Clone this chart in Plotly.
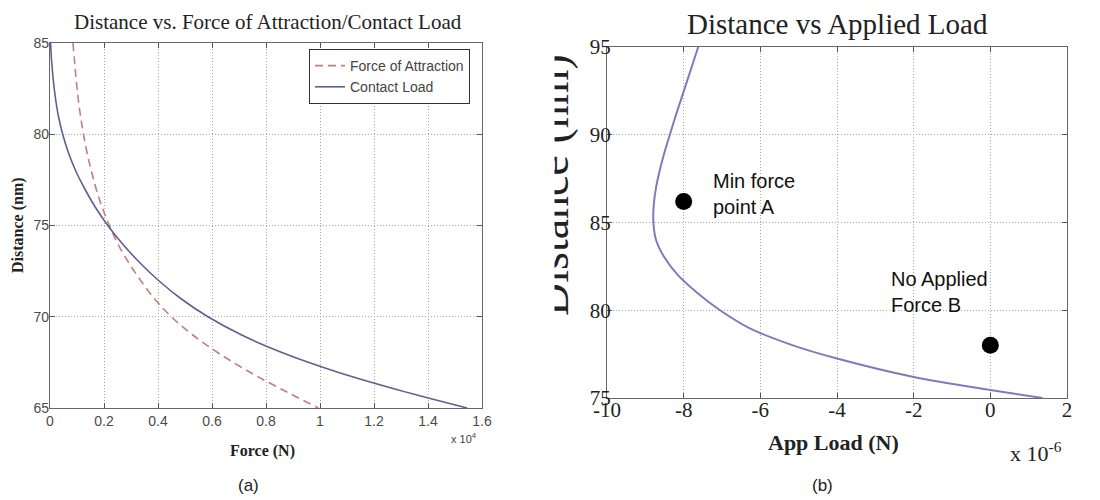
import plotly.graph_objects as go

# ---- Panel (a) data: Distance (nm) vs Force (x1e4 N) ----
dist_attraction = [85, 84, 83, 82, 81, 80, 79, 78, 77, 76, 75, 74, 73, 72, 71, 70, 69, 68, 67, 66, 65]
force_attraction = [0.085, 0.091, 0.097, 0.104, 0.113, 0.124, 0.137, 0.153, 0.171, 0.193, 0.220,
                    0.251, 0.290, 0.335, 0.386, 0.449, 0.529, 0.625, 0.736, 0.861, 0.994]

dist_contact = [85, 84, 83, 82, 81, 80, 79, 78, 77, 76, 75, 74, 73, 72, 71, 70, 69, 68, 67, 66, 65]
force_contact = [0.002, 0.006, 0.012, 0.020, 0.031, 0.047, 0.068, 0.095, 0.129, 0.168, 0.214,
                 0.268, 0.330, 0.401, 0.484, 0.585, 0.710, 0.866, 1.058, 1.287, 1.545]

a_xticks = [0, 0.2, 0.4, 0.6, 0.8, 1.0, 1.2, 1.4, 1.6]
a_xticklabels = ["0", "0.2", "0.4", "0.6", "0.8", "1", "1.2", "1.4", "1.6"]
a_yticks = [65, 70, 75, 80, 85]

# ---- Panel (b) data: Distance (nm) vs App Load (x1e-6 N) ----
dist_applied = [95, 94, 93, 92, 91, 90, 89, 88, 87, 86, 85, 84, 83, 82, 81, 80, 79, 78,
                77.25, 76.2, 75.46, 75]
load_applied = [-7.62, -7.77, -7.92, -8.07, -8.22, -8.36, -8.5, -8.62, -8.72, -8.78, -8.79, -8.72,
                -8.5, -8.15, -7.65, -7.05, -6.3, -5.15, -4.0, -2.0, 0.0, 1.36]

point_labels = ["A", "B"]
point_load = [-8.0, 0.0]
point_dist = [86.2, 78.0]

b_xticks = [-10, -8, -6, -4, -2, 0, 2]
b_xticklabels = ["-10", "-8", "-6", "-4", "-2", "0", "2"]
b_yticks = [75, 80, 85, 90, 95]

# The page body has an 8px margin: size the figure to the visible area and
# express positions in window pixels.
OFF = 8
W, H = 1100 - OFF, 500 - OFF
def px(x):
    return (x - OFF) / W
def py(y):
    return 1 - (y - OFF) / H

SERIF = "Liberation Serif, Times New Roman, serif"
SANS = "Liberation Sans, Arial, sans-serif"
NARROW = "Liberation Sans Narrow, Arial Narrow, Liberation Sans, sans-serif"

fig = go.Figure()
fig.add_trace(go.Scatter(x=force_attraction, y=dist_attraction, mode="lines",
                         name="Force of Attraction",
                         line=dict(color="#c27f7f", width=1.6, dash="8px,5px", shape="spline", smoothing=1),
                         xaxis="x", yaxis="y"))
fig.add_trace(go.Scatter(x=force_contact, y=dist_contact, mode="lines",
                         name="Contact Load",
                         line=dict(color="#5f5f92", width=1.6, shape="spline", smoothing=1),
                         xaxis="x", yaxis="y"))
fig.add_trace(go.Scatter(x=load_applied, y=dist_applied, mode="lines", showlegend=False,
                         line=dict(color="#7c7cbc", width=2, shape="spline", smoothing=0.8),
                         xaxis="x2", yaxis="y2"))
fig.add_trace(go.Scatter(x=point_load, y=point_dist, mode="markers", showlegend=False,
                         marker=dict(color="black", size=17), text=point_labels,
                         xaxis="x2", yaxis="y2"))

axis_common = dict(showgrid=True, gridcolor="#a8a8a8", griddash="1px,2px", gridwidth=1,
                   ticks="inside", ticklen=5, tickcolor="#555", mirror="allticks",
                   showline=True, linecolor="#666", linewidth=1.2, zeroline=False,
                   automargin=False)

fig.update_layout(
    template="none",
    width=W, height=H, margin=dict(l=0, r=0, t=0, b=0, pad=0, autoexpand=False),
    paper_bgcolor="white", plot_bgcolor="white",
    xaxis=dict(domain=[px(50), px(482)], range=[0, 1.6], tickvals=a_xticks, ticktext=a_xticklabels,
               anchor="y", tickfont=dict(family=NARROW, size=14, color="#4a4a4a"), **axis_common),
    yaxis=dict(domain=[py(408), py(43)], range=[65, 85], tickvals=a_yticks, ticklabelstandoff=-3,
               anchor="x", tickfont=dict(family=NARROW, size=14, color="#4a4a4a"), **axis_common),
    xaxis2=dict(domain=[px(607), px(1067)], range=[-10, 2], tickvals=b_xticks, ticktext=b_xticklabels,
                ticklabelstandoff=-7,
                anchor="y2", tickfont=dict(family=SERIF, size=21, color="#222"), **axis_common),
    yaxis2=dict(domain=[py(398), py(47)], range=[75, 95], tickvals=b_yticks, ticklabelstandoff=-9,
                anchor="x2", tickfont=dict(family=SERIF, size=21, color="#222"), **axis_common),
    legend=dict(x=px(309), y=py(49), xanchor="left", yanchor="top",
                bordercolor="#333", borderwidth=1, bgcolor="white",
                font=dict(family=SANS, size=14, color="#444"), tracegroupgap=0),
    showlegend=True,
)

ann = []
def add(text, x, y, size, family=SERIF, color="#222", angle=0, xanchor="center", yanchor="middle",
        xref="paper", yref="paper", **kw):
    ann.append(dict(text=text, x=x, y=y, xref=xref, yref=yref, showarrow=False,
                    font=dict(family=family, size=size, color=color), textangle=angle,
                    xanchor=xanchor, yanchor=yanchor, **kw))

# Panel (a) texts
add("Distance vs. Force of Attraction/Contact Load", px(268), py(22), 21)
add("<b>Force (N)</b>", px(262), py(451), 16)
add("<b>Distance (nm)</b>", px(18), py(225), 16, angle=-90)
add("x 10<sup>4</sup>", px(464), py(438), 11, family=SANS, color="#444")
add("(a)", px(248), py(485), 17, family=SANS)

# Panel (b) texts
add("Distance vs Applied Load", px(837), py(24), 29)
add("<b>App Load (N)</b>", px(833), py(442), 22)
add("x 10<sup>-6</sup>", px(1036), py(452), 22)
add("(b)", px(822), py(485), 17, family=SANS)
add("Distance (nm)", px(552), py(185), 46, angle=-90)
# white mask reproducing the clipped y-axis title of panel (b)
ann.append(dict(text=" ", x=px(536), y=py(190), xref="paper", yref="paper", showarrow=False,
                width=34, height=330, bgcolor="white", xanchor="center", yanchor="middle"))

# point labels
add("Min force", -7.30, 87.35, 20, family=SANS, color="#111", xanchor="left", xref="x2", yref="y2")
add("point A", -7.30, 85.9, 20, family=SANS, color="#111", xanchor="left", xref="x2", yref="y2")
add("No Applied", -2.65, 81.8, 20, family=SANS, color="#111", xanchor="left", xref="x2", yref="y2")
add("Force B", -2.65, 80.3, 20, family=SANS, color="#111", xanchor="left", xref="x2", yref="y2")

fig.update_layout(annotations=ann)
fig.write_html("out.html")
